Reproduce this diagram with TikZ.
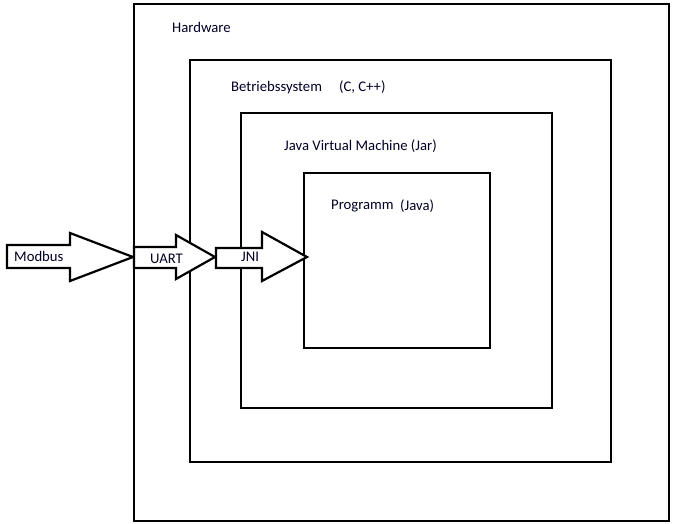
\documentclass[tikz,border=0pt]{standalone}
\usepackage{fontspec}
\setmainfont{Carlito}
\begin{document}
\begin{tikzpicture}[x=1pt,y=-1pt,
  box/.style={draw=black,line width=2.6pt},
  arr/.style={draw=black,fill=white,line width=2.2pt,line join=miter},
  lbl/.style={inner sep=0pt,anchor=west,text=black!85!blue,font=\fontsize{14.7}{17}\selectfont}]
\useasboundingbox (0,0) rectangle (673,523);
\draw[box] (134,4) rectangle (669,521);
\draw[box] (190,60) rectangle (611,462);
\draw[box] (241,113) rectangle (552,408);
\draw[box] (304,173) rectangle (490,348);
% arrows
\draw[arr] (7,245) -- (70,245) -- (70,233) -- (133,257) -- (70,281) -- (70,268) -- (7,268) -- cycle;
\draw[arr] (134,247) -- (176,247) -- (176,235) -- (215,257) -- (176,279) -- (176,268) -- (134,268) -- cycle;
\draw[arr] (216,248) -- (262,248) -- (262,232) -- (307,257) -- (262,281) -- (262,268) -- (216,268) -- cycle;
% labels
\node[lbl] (hw) at (172,27) {Hardware};
\node[lbl] (bs) at (231,88) {Betriebssystem};
\node[lbl] (cc) at (339,87) {(C, C++)};
\node[lbl] (jvm) at (284,146) {Java Virtual Machine (Jar)};
\node[lbl] (pg) at (331,206) {Programm};
\node[lbl] (jv) at (400,206) {(Java)};
\node[lbl] (mb) at (14,256) {Modbus};
\node[lbl] (ua) at (150,259) {UART};
\node[lbl] (jni) at (241,257) {JNI};
\end{tikzpicture}
\end{document}
